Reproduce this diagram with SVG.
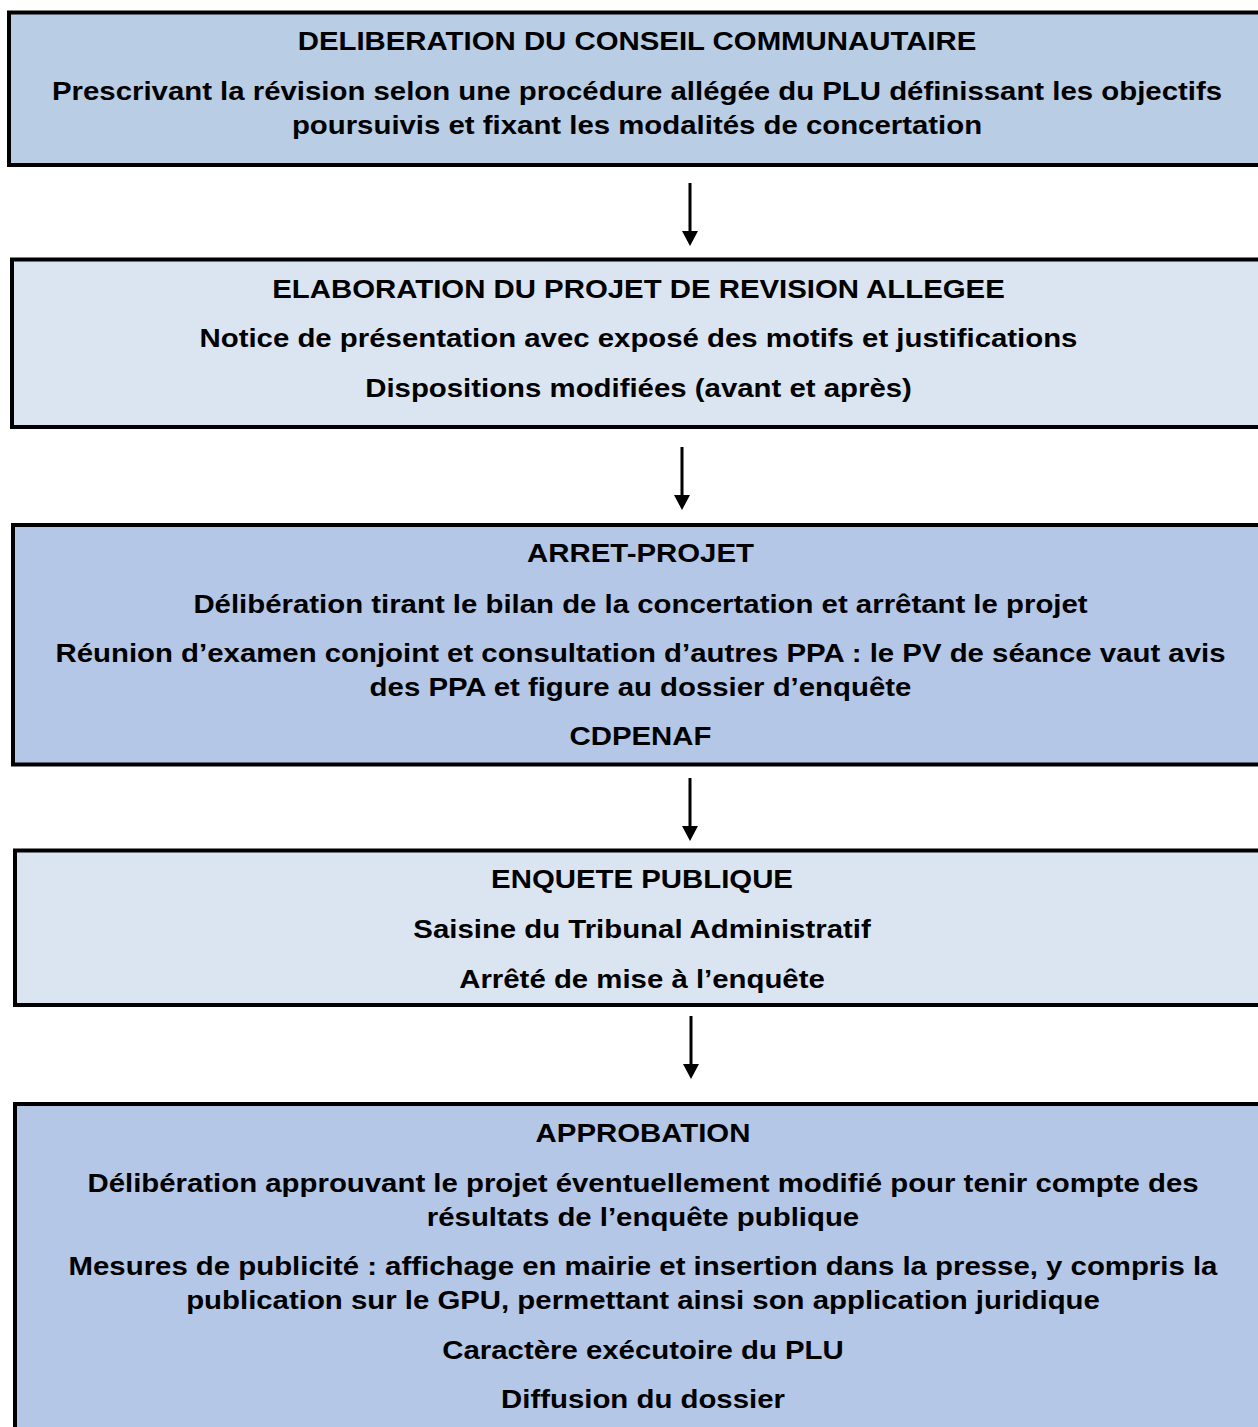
<svg xmlns="http://www.w3.org/2000/svg" width="1258" height="1427" viewBox="0 0 1258 1427">
<defs>
<style>
.box{stroke:#000;stroke-width:4}
.dark1{fill:#b9cde5}
.dark{fill:#b4c7e7}
.light{fill:#dbe5f1}
text{font-family:'Liberation Sans',Arial,Helvetica,sans-serif;font-weight:700;font-size:25px;fill:#000;text-anchor:middle}
.conn{stroke:#000;stroke-width:3;fill:none}
</style>
<marker id="arrow" viewBox="0 0 15 16" refX="0" refY="8" markerWidth="15" markerHeight="16" markerUnits="userSpaceOnUse" orient="auto">
<path d="M0,0 L15,8 L0,16 z" fill="#000"/>
</marker>
</defs>
<rect width="1258" height="1427" fill="#fff"/>
<g id="node1">
<rect class="box dark1" x="9" y="12.5" width="1260" height="152.5"/>
<g transform="translate(637 0) scale(1.175 1)">
<text x="0" y="50">DELIBERATION DU CONSEIL COMMUNAUTAIRE</text>
<text x="0" y="100">Prescrivant la révision selon une procédure allégée du PLU définissant les objectifs</text>
<text x="0" y="134">poursuivis et fixant les modalités de concertation</text>
</g>
</g>
<g id="node2">
<rect class="box light" x="12" y="259.5" width="1260" height="167.5"/>
<g transform="translate(638.5 0) scale(1.175 1)">
<text x="0" y="298">ELABORATION DU PROJET DE REVISION ALLEGEE</text>
<text x="0" y="347">Notice de présentation avec exposé des motifs et justifications</text>
<text x="0" y="397">Dispositions modifiées (avant et après)</text>
</g>
</g>
<g id="node3">
<rect class="box dark" x="13" y="525" width="1260" height="239.5"/>
<g transform="translate(640.5 0) scale(1.175 1)">
<text x="0" y="562">ARRET-PROJET</text>
<text x="0" y="613">Délibération tirant le bilan de la concertation et arrêtant le projet</text>
<text x="0" y="662">Réunion d’examen conjoint et consultation d’autres PPA : le PV de séance vaut avis</text>
<text x="0" y="696">des PPA et figure au dossier d’enquête</text>
<text x="0" y="745">CDPENAF</text>
</g>
</g>
<g id="node4">
<rect class="box light" x="15" y="850.5" width="1260" height="154.5"/>
<g transform="translate(642 0) scale(1.175 1)">
<text x="0" y="888">ENQUETE PUBLIQUE</text>
<text x="0" y="938">Saisine du Tribunal Administratif</text>
<text x="0" y="988">Arrêté de mise à l’enquête</text>
</g>
</g>
<g id="node5">
<rect class="box dark" x="15" y="1104" width="1260" height="400"/>
<g transform="translate(643 0) scale(1.175 1)">
<text x="0" y="1142">APPROBATION</text>
<text x="0" y="1192">Délibération approuvant le projet éventuellement modifié pour tenir compte des</text>
<text x="0" y="1226">résultats de l’enquête publique</text>
<text x="0" y="1275">Mesures de publicité : affichage en mairie et insertion dans la presse, y compris la</text>
<text x="0" y="1309">publication sur le GPU, permettant ainsi son application juridique</text>
<text x="0" y="1359">Caractère exécutoire du PLU</text>
<text x="0" y="1408">Diffusion du dossier</text>
</g>
</g>
<g id="connectors">
<line class="conn" x1="690" y1="183" x2="690" y2="231" marker-end="url(#arrow)"/>
<line class="conn" x1="682" y1="447" x2="682" y2="495" marker-end="url(#arrow)"/>
<line class="conn" x1="690" y1="778" x2="690" y2="826" marker-end="url(#arrow)"/>
<line class="conn" x1="691" y1="1016" x2="691" y2="1064" marker-end="url(#arrow)"/>
</g>
</svg>
